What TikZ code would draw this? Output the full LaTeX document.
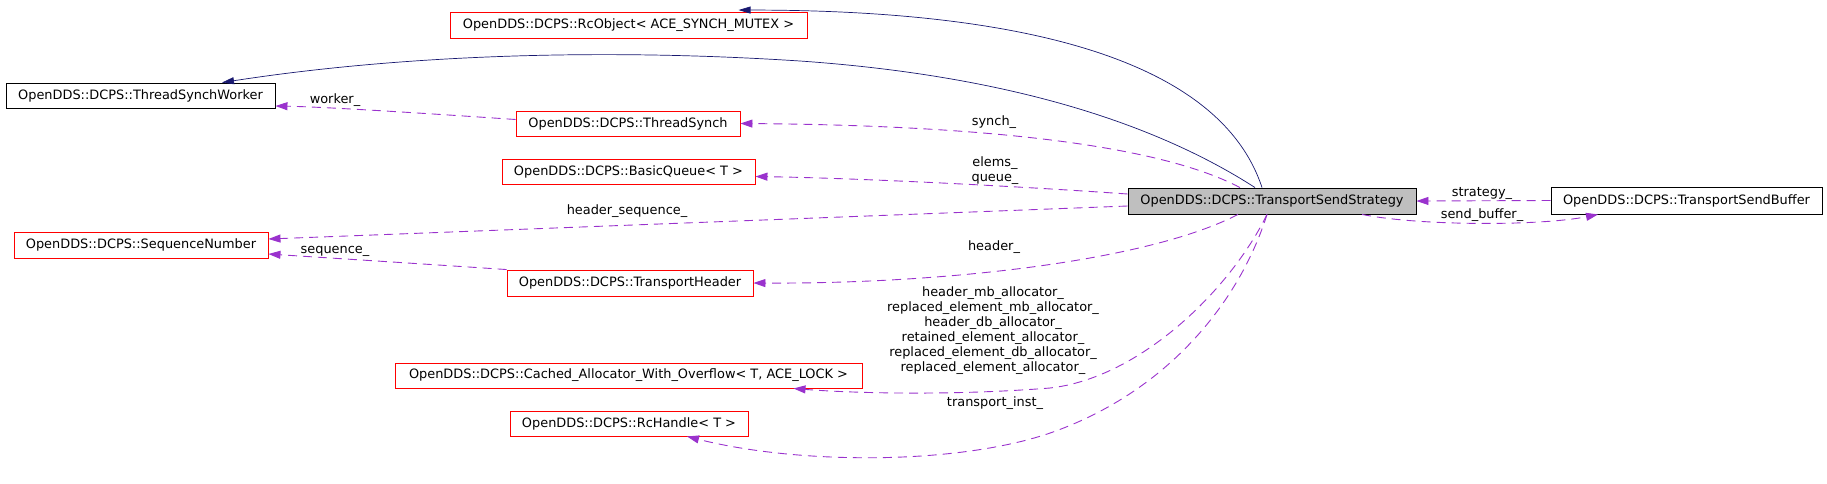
\documentclass[tikz,border=0pt]{standalone}
\usepackage{fontspec}
\setmainfont{DejaVu Sans}
\usetikzlibrary{arrows.meta}
\definecolor{inhcol}{HTML}{191970}
\definecolor{usecol}{HTML}{9A32CD}
\definecolor{tssfill}{HTML}{BFBFBF}
\begin{document}
\begin{tikzpicture}[x=1pt,y=-1pt,
  every node/.style={font=\fontsize{12.9pt}{15pt}\selectfont},
  cls/.style={draw=red, line width=0.9pt, minimum height=26pt, inner sep=0pt, anchor=center},
  clsblack/.style={cls, draw=black},
  clsmain/.style={cls, draw=black, fill=tssfill},
  inh/.style={draw=inhcol, line width=0.7pt, -{Triangle[length=12pt,width=7pt]}},
  use/.style={draw=usecol, line width=0.9pt, dash pattern=on 9pt off 6pt, -{Triangle[length=12pt,width=8pt]}},
  lbl/.style={inner sep=0pt, align=center}
]
\useasboundingbox (0,0) rectangle (1827,483);

% nodes
\node[cls, minimum width=357pt] (rco) at (628.5,25) {OpenDDS::DCPS::RcObject< ACE\_SYNCH\_MUTEX >};
\node[clsblack, minimum width=269pt, minimum height=25pt] (tsw) at (140.5,95.5) {OpenDDS::DCPS::ThreadSynchWorker};
\node[cls, minimum width=224pt, minimum height=25pt] (ts) at (628,123.5) {OpenDDS::DCPS::ThreadSynch};
\node[cls, minimum width=253pt, minimum height=25pt] (bq) at (628.5,171.5) {OpenDDS::DCPS::BasicQueue< T >};
\node[cls, minimum width=254pt] (sn) at (141,245) {OpenDDS::DCPS::SequenceNumber};
\node[cls, minimum width=246pt] (th) at (630,283) {OpenDDS::DCPS::TransportHeader};
\node[cls, minimum width=467pt, minimum height=25pt] (cao) at (628.5,375.5) {OpenDDS::DCPS::Cached\_Allocator\_With\_Overflow< T, ACE\_LOCK >};
\node[cls, minimum width=238pt, minimum height=25pt] (rch) at (629,423.5) {OpenDDS::DCPS::RcHandle< T >};
\node[clsmain, minimum width=288pt] (tss) at (1272,201) {OpenDDS::DCPS::TransportSendStrategy};
\node[clsblack, minimum width=271pt, minimum height=27pt] (tsb) at (1686.5,200.5) {OpenDDS::DCPS::TransportSendBuffer};

% inheritance
\draw[inh] ([xshift=-10pt]tss.north) .. controls (1215,45) and (980,10) .. ([xshift=110pt,yshift=1.5pt]rco.north);
\draw[inh] ([xshift=-17pt]tss.north) .. controls (1150,120) and (1000,75) .. (800,61)
   .. controls (600,48) and (400,55) .. ([xshift=81.5pt]tsw.north);

% usage
\draw[use] ([xshift=-32pt]tss.north) .. controls (1150,140) and (950,125) .. (ts.east);
\draw[use] ([yshift=7pt]tss.west) .. controls (1000,185) and (850,178) .. ([yshift=-5pt]bq.east);
\draw[use] ([yshift=-5pt]tss.west) -- ([yshift=6pt]sn.east);
\draw[use] (th.north west) .. controls (440,265) and (330,258) .. ([yshift=-9pt]sn.east);
\draw[use] ([yshift=4pt]ts.west) .. controls (450,115) and (330,107) .. ([yshift=-10.5pt]tsw.east);
\draw[use] ([xshift=-34pt]tss.south) .. controls (1150,260) and (950,284) .. (th.east);
\draw[use] ([xshift=-5pt]tss.south) .. controls (1230,290) and (1140,378) .. (1050,388)
   .. controls (950,396) and (850,393) .. ([xshift=165pt]cao.south);
\draw[use] ([xshift=-5pt]tss.south) .. controls (1240,300) and (1170,390) .. (1053,432)
   .. controls (960,465) and (800,465) .. ([xshift=58pt]rch.south);
\draw[use] (tsb.west) -- (tss.east);
\draw[use] ([xshift=90pt]tss.south) .. controls (1420,226) and (1540,226) .. ([xshift=-88.5pt]tsb.south);

% labels
\node[lbl] (l1) at (335,100) {worker\_};
\node[lbl] (l2) at (994,122) {synch\_};
\node[lbl] (l3) at (995,170.5) {elems\_\\queue\_};
\node[lbl] (l4) at (627,211) {header\_sequence\_};
\node[lbl] (l5) at (335,251) {sequence\_};
\node[lbl] (l6) at (994,247) {header\_};
\node[lbl] (l7) at (993,331) {header\_mb\_allocator\_\\replaced\_element\_mb\_allocator\_\\header\_db\_allocator\_\\retained\_element\_allocator\_\\replaced\_element\_db\_allocator\_\\replaced\_element\_allocator\_};
\node[lbl] (l8) at (995,403) {transport\_inst\_};
\node[lbl] (l9) at (1482,193) {strategy\_};
\node[lbl] (l10) at (1482,215) {send\_buffer\_};
\end{tikzpicture}
\end{document}
